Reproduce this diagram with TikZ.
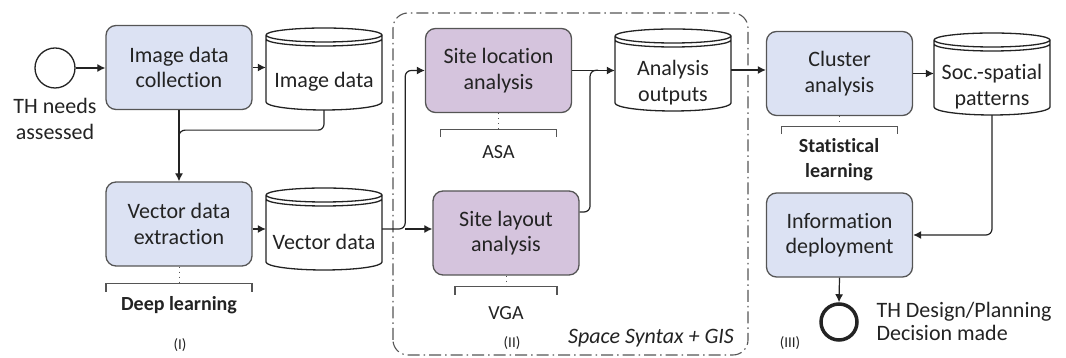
\documentclass[tikz,border=0pt]{standalone}
\usepackage{fontspec}
\setmainfont{Carlito}[Ligatures=NoCommon]
\usepackage{tikz}
\usetikzlibrary{arrows.meta,calc,positioning}
\definecolor{taskblue}{RGB}{220,226,243}
\definecolor{taskviolet}{RGB}{213,196,221}
\definecolor{rim}{RGB}{85,85,85}
\definecolor{ink}{RGB}{35,35,35}
\tikzstyle{task}  =[rectangle, rounded corners=10pt, draw=rim, line width=1.3pt,
                    minimum width=146pt, minimum height=84pt, inner sep=0pt,
                    align=center, text=ink, font=\fontsize{22}{25.5}\selectfont]
\tikzstyle{store} =[rectangle, minimum width=116pt, minimum height=82pt,
                    inner sep=0pt]
\tikzstyle{stxt}  =[align=center, yshift=-12.5pt, text=ink,
                    font=\fontsize{22}{25.5}\selectfont]
\tikzstyle{flow}  =[line width=1.2pt, draw=ink, -{Latex[length=8pt,width=8pt]}]
\tikzstyle{link}  =[line width=1.2pt, draw=ink, rounded corners=6pt]
\tikzstyle{event} =[circle, draw=ink, inner sep=0pt]
\tikzstyle{brace} =[line width=1.1pt, draw=rim]
\tikzstyle{note}  =[text=ink, align=center, font=\fontsize{22}{25.5}\selectfont]
\tikzstyle{tag}   =[text=ink, font=\fontsize{15}{18}\selectfont]

\begin{document}
\begin{tikzpicture}[x=1pt, y=1pt]
    \useasboundingbox (0,0) rectangle (1066,358);

    % (I)
    \node[event, line width=1.3pt, minimum size=40pt] (start) at (55,290) {};
    \node[note] (needs) at (55,239) {TH needs\\assessed};
    \node[task, fill=taskblue] (imgcoll) at (179,290.5) {Image data\\collection};
    \node[store, label={[stxt]center:Image data}] (imgdata) at (324,289) {};
    \node[task, fill=taskblue] (veccoll) at (179,134) {Vector data\\extraction};
    \node[store, label={[stxt]center:Vector data}] (vecdata) at (324,129) {};

    % (II)
    \node[task, fill=taskviolet] (siteloc) at (498.5,287.5) {Site location\\analysis};
    \node[task, fill=taskviolet] (sitelay) at (506,125) {Site layout\\analysis};
    \node[store, label={[stxt]center:Analysis\\outputs}] (outputs) at (673,288) {};

    % (III)
    \node[task, fill=taskblue] (cluster) at (839.5,284.5) {Cluster\\analysis};
    \node[store, label={[stxt]center:Soc.-spatial\\patterns}] (patterns) at (992,284) {};
    \node[task, fill=taskblue] (info) at (839.5,123) {Information\\deployment};
    \node[event, line width=3.5pt, minimum size=36pt] (finish) at (839,36) {};
    \node[note, align=left, anchor=west, font=\fontsize{22}{23}\selectfont]
        (decision) at (873,37) {TH Design/Planning\\Decision made};

    \foreach \c in {imgdata,vecdata,outputs,patterns}{
        \draw[line width=1.3pt, ink]
            ($(\c)+(-58,34)$) arc[start angle=180, end angle=-180, x radius=58, y radius=7]
            ($(\c)+(-58,30)$) arc[start angle=180, end angle=360, x radius=58, y radius=7]
            ($(\c)+(-58,34)$) -- ($(\c)+(-58,-33)$)
            arc[start angle=180, end angle=360, x radius=58, y radius=8]
            -- ($(\c)+(58,34)$);
    }

    % method brackets
    \foreach \n/\w/\g in {veccoll/73/17, siteloc/58/16, sitelay/51/11, cluster/58/10}{
        \draw[rim, line width=1pt, dash pattern=on 1pt off 4pt] (\n.south) -- ++(0,-\g) coordinate (top);
        \draw[brace] ($(top)+(-\w,-8)$) |- ($(top)+(\w,0)$) -- ++(0,-8);
    }
    \node[note, font=\bfseries\fontsize{20}{25}\selectfont] (deep) at (179,53) {Deep learning};
    \node[note, font=\fontsize{20}{25}\selectfont] (asa) at (498.5,206) {ASA};
    \node[note, font=\fontsize{20}{25}\selectfont] (vga) at (506,45) {VGA};
    \node[note, font=\bfseries\fontsize{20}{25}\selectfont] (stat) at (839,198.5) {Statistical\\learning};

    \draw[rim, line width=1.1pt, rounded corners=15pt,
          dash pattern=on 12pt off 4pt on 1.5pt off 4pt] (393,3) rectangle (748,345);
    \node[tag] (ph1) at (180,13) {(I)};
    \node[tag] (ph2) at (512,15) {(II)};
    \node[tag] (ph3) at (790,15) {(III)};
    \node[note, font=\itshape\fontsize{22}{25}\selectfont] (sgis) at (651,20) {Space Syntax + GIS};

    % connectors
    \coordinate (split) at ($(vecdata.east)+(23,0)$);
    \coordinate (merge) at ($(siteloc.east)!0.42!(outputs.west)$);
    \draw[flow] (start.east) -- (start.east -| imgcoll.west);
    \draw[flow] (imgcoll.east) -- (imgcoll.east -| imgdata.west);
    \draw[flow] (imgcoll.south) -- (veccoll.north);
    \draw[link] (imgdata.south) |- ($(imgcoll.south)+(0,-20)$) -- ++(0,-8);
    \draw[flow] (vecdata.west -| veccoll.east) -- (vecdata.west);
    \draw[flow, rounded corners=6pt] (vecdata.east) -| (split |- siteloc.west) -- (siteloc.west);
    \draw[flow] (split) -- (split -| sitelay.west);
    \draw[flow] (siteloc.east) -- (siteloc.east -| outputs.west);
    \draw[link] ($(sitelay.east)+(0,21)$) -| (merge) -- ++(8,0);
    \draw[flow] (outputs.east) -- (outputs.east -| cluster.west);
    \draw[flow] (cluster.east) -- (cluster.east -| patterns.west);
    \draw[flow, rounded corners=6pt] (patterns.south) |- (info.east);
    \draw[flow] (info.south) -- (finish.north);
\end{tikzpicture}
\end{document}
